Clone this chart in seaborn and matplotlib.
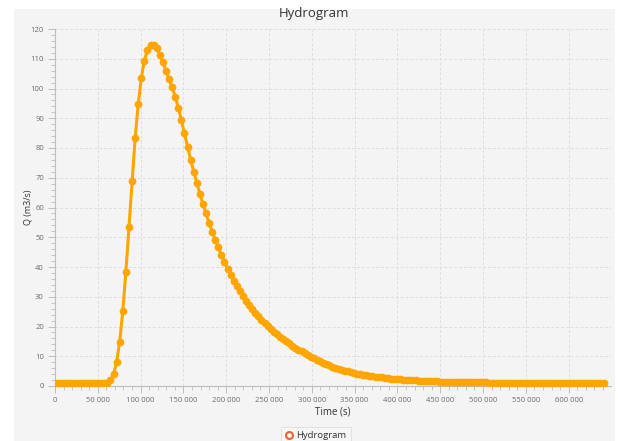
import numpy as np
import pandas as pd
import matplotlib
matplotlib.use("Agg")
import matplotlib.pyplot as plt
from matplotlib.lines import Line2D
from matplotlib.patches import Rectangle
from matplotlib.ticker import MultipleLocator, FuncFormatter
import seaborn as sns

# Discharge sampled every hour (time in hours, converted to seconds below)
hours = list(range(0, 179))
discharge = [
    # 0-17 h: base flow
    1.0, 1.0, 1.0, 1.0, 1.0, 1.0, 1.0, 1.0, 1.0, 1.0,
    1.0, 1.0, 1.0, 1.0, 1.0, 1.0, 1.0, 1.1,
    # 18-32 h: rising limb and peak
    1.9, 3.9, 8.1, 14.9, 25.2, 38.4, 53.5, 69.0, 83.2, 94.7,
    103.5, 109.4, 113.0, 114.6, 114.5,
    # 33-63 h: falling limb
    113.5, 111.4, 108.8, 106.0, 103.2, 100.4, 97.3, 93.6, 89.4, 85.0,
    80.5, 76.1, 72.1, 68.3, 64.6, 61.2, 58.0, 54.8, 51.9, 49.1,
    46.6, 44.1, 41.8, 39.4, 37.4, 35.4, 33.6, 31.8, 30.1, 28.6,
    27.1,
    # 64-127 h: recession
    25.8, 24.6, 23.4, 22.3, 21.2, 20.2, 19.2, 18.3, 17.4, 16.6,
    15.8, 15.0, 14.3, 13.6, 12.9, 12.2, 11.6, 11.0, 10.4, 9.85,
    9.3, 8.75, 8.25, 7.75, 7.3, 6.9, 6.5, 6.1, 5.8, 5.5,
    5.2, 4.9, 4.65, 4.4, 4.2, 4.0, 3.8, 3.6, 3.45, 3.3,
    3.15, 3.0, 2.87, 2.75, 2.63, 2.52, 2.42, 2.33, 2.24, 2.16,
    2.08, 2.01, 1.94, 1.88, 1.82, 1.77, 1.72, 1.67, 1.63, 1.59,
    1.55, 1.51, 1.48, 1.45,
    # 128-178 h: return to base flow
    1.42, 1.39, 1.36, 1.34, 1.32, 1.30, 1.28, 1.26, 1.24, 1.23,
    1.21, 1.20, 1.19, 1.17, 1.16, 1.15, 1.14, 1.13, 1.12, 1.11,
    1.10, 1.10, 1.09, 1.08, 1.08, 1.07, 1.07, 1.06, 1.06, 1.05,
    1.05, 1.05, 1.04, 1.04, 1.04, 1.03, 1.03, 1.03, 1.03, 1.02,
    1.02, 1.02, 1.02, 1.02, 1.01, 1.01, 1.01, 1.01, 1.01, 1.01,
    1.0,
]

series_name = "Hydrogram"
title_text = "Hydrogram"
x_label = "Time (s)"
y_label = "Q (m3/s)"

df = pd.DataFrame({"time": [h * 3600 for h in hours], "q": discharge})

sns.set_theme(style="white")
plt.rcParams["font.family"] = ["Open Sans", "DejaVu Sans"]

W, H = 618, 441
fig = plt.figure(figsize=(W / 100, H / 100), dpi=100)
fig.patch.set_facecolor("white")

# grey panel behind the chart
fig.patches.append(Rectangle((14 / W, 0), (615 - 14) / W, (H - 9) / H,
                             transform=fig.transFigure, facecolor="#f4f4f4",
                             edgecolor="none", zorder=-10))

left, right, top, bottom = 55, 611, 29, 386
ax = fig.add_axes([left / W, 1 - bottom / H, (right - left) / W, (bottom - top) / H])
ax.set_facecolor("#f4f4f4")

line_color = "#ffa500"
sns.lineplot(data=df, x="time", y="q", ax=ax, color=line_color, linewidth=2.2,
             legend=False)
sns.scatterplot(data=df, x="time", y="q", ax=ax, color=line_color, s=31,
                linewidth=0, legend=False, zorder=3)

ax.set_xlim(0, 649500)
ax.set_ylim(0, 120)
ax.xaxis.set_major_locator(MultipleLocator(50000))
ax.xaxis.set_minor_locator(MultipleLocator(10000))
ax.yaxis.set_major_locator(MultipleLocator(10))
ax.yaxis.set_minor_locator(MultipleLocator(2))
ax.xaxis.set_major_formatter(FuncFormatter(lambda v, p: f"{int(v):,}".replace(",", " ")))

ax.grid(True, which="major", color="#dedede", linestyle=(0, (3, 2)), linewidth=0.7)
ax.set_axisbelow(True)
for s in ["top", "right"]:
    ax.spines[s].set_visible(False)
for s in ["left", "bottom"]:
    ax.spines[s].set_color("#bdbdbd")
    ax.spines[s].set_linewidth(0.8)

ax.tick_params(which="major", direction="out", length=5, width=0.7, color="#bdbdbd",
               labelsize=5.5, labelcolor="#6b6b6b", pad=3)
ax.tick_params(which="minor", direction="out", length=3, width=0.6, color="#bdbdbd")
ax.tick_params(axis="x", which="both", bottom=True)
ax.tick_params(axis="y", which="both", left=True)

ax.set_xlabel(x_label, fontsize=7, color="#333333", labelpad=2)
ax.set_ylabel(y_label, fontsize=6.5, color="#333333")
ax.yaxis.set_label_coords(-22 / (right - left), 0.5)

fig.text(314.5 / W, 1 - 14 / H, title_text, ha="center", va="center",
         fontsize=9.5, color="#333333")

handle = Line2D([], [], linestyle="none", marker="o", markersize=5,
                markerfacecolor="none", markeredgecolor="#f3622d", markeredgewidth=1.5)
leg = fig.legend([handle], [series_name], loc="upper center",
                 bbox_to_anchor=(316 / W, 1 - 422 / H), frameon=True, fontsize=6.8,
                 handlelength=0.6, handletextpad=0.4, borderpad=0.5,
                 fancybox=False)
leg.get_frame().set_facecolor("#f7f7f7")
leg.get_frame().set_edgecolor("#dcdcdc")
leg.get_frame().set_linewidth(0.7)
for t in leg.get_texts():
    t.set_color("#333333")

fig.savefig("out.png", dpi=100)
